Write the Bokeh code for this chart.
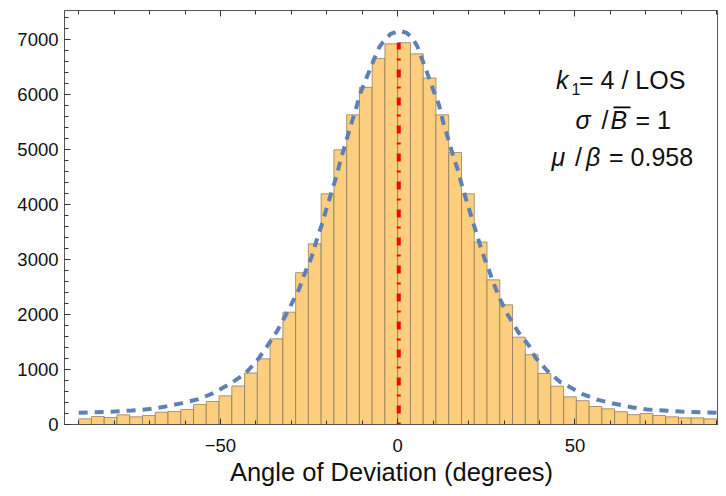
import numpy as np
from bokeh.plotting import figure
from bokeh.models import LinearAxis, Range1d, Label, BoxAnnotation, FixedTicker, ColumnDataSource
from bokeh.embed import file_html
from bokeh.resources import INLINE

# ---------------- data ----------------
BIN_START = -90.0
BIN_END = 90.0
N_BINS = 50
COUNTS = [103, 145, 127, 176, 139, 164, 224, 236, 273, 364,
          418, 521, 700, 936, 1194, 1558, 2042, 2760, 3285, 4194,
          4994, 5630, 6130, 6655, 6921, 6942, 6739, 6300, 5630, 4945,
          4194, 3318, 2630, 2176, 1588, 1270, 927, 697, 503, 433,
          327, 285, 233, 179, 200, 164, 139, 121, 121, 103]

CURVE_X = [-90, -80, -75, -70, -65.5, -60.8, -56.2, -52, -47.3, -43.1,
           -39.8, -37, -34, -31, -27.8, -26.2, -24.3, -22.9, -21.5, -20.1,
           -18.7, -17.3, -16.1, -14.7, -13.4, -11.9, -10.6, -8.9, -7.0, -5.2,
           -3.5, -2.0, 0.5, 2.5, 4.0, 5.5, 7.0, 8.4, 10.1, 11.7,
           12.9, 14.3, 15.6, 17.1, 18.3, 19.7, 21.1, 22.5, 23.9, 25.6,
           27.2, 28.8, 31, 34, 37, 38.9, 42.1, 45.9, 47.8, 52,
           56.5, 61.2, 65.9, 70.3, 75, 80, 90]
CURVE_Y = [212, 236, 255, 280, 327, 388, 461, 570, 739, 921,
           1152, 1406, 1700, 2060, 2467, 2751, 3042, 3345, 3618, 3921,
           4224, 4509, 4812, 5115, 5406, 5709, 6012, 6285, 6588, 6860,
           7010, 7100, 7160, 7120, 7040, 6880, 6620, 6376, 6073, 5800,
           5478, 5182, 4891, 4600, 4303, 4012, 3709, 3418, 3121, 2830,
           2545, 2285, 2000, 1680, 1436, 1212, 982, 770, 709, 558,
           448, 376, 315, 273, 255, 236, 212]

MEAN_X = 0.3
MEAN_TOP = 6940

X_MAJOR = [-50, 0, 50]
X_MINOR = [-90, -80, -70, -60, -40, -30, -20, -10, 10, 20, 30, 40, 60, 70, 80, 90]
Y_MAJOR = [0, 1000, 2000, 3000, 4000, 5000, 6000, 7000]
Y_MINOR = [v for v in range(0, 7600, 200)]

X_LABEL = "Angle of Deviation (degrees)"

# ---------------- figure ----------------
FONT = "Liberation Sans"
FRAME = "#555555"

p = figure(width=718, height=488,
           x_range=Range1d(-94, 90.5), y_range=Range1d(0, 7527),
           output_backend="svg", toolbar_location=None,
           min_border_left=64, min_border_right=0,
           min_border_top=10, min_border_bottom=64)
p.background_fill_color = "white"
p.border_fill_color = "white"
p.outline_line_color = FRAME
p.xgrid.visible = False
p.ygrid.visible = False

edges = np.linspace(BIN_START, BIN_END, N_BINS + 1)
src = ColumnDataSource(dict(left=edges[:-1], right=edges[1:], top=COUNTS,
                            bottom=[0] * len(COUNTS)))
p.quad(left="left", right="right", top="top", bottom="bottom", source=src,
       fill_color="#FCCE7E", line_color="#8C7A58", line_alpha=0.75, line_width=1)

p.line(CURVE_X, CURVE_Y, line_color="#5E81B5", line_width=4, line_dash="9 7")

p.segment(x0=[MEAN_X], y0=[0], x1=[MEAN_X], y1=[MEAN_TOP],
          line_color="#FF0000", line_width=4, line_dash="2 9 8 9")

xt = FixedTicker(ticks=X_MAJOR, minor_ticks=X_MINOR)
yt = FixedTicker(ticks=Y_MAJOR, minor_ticks=Y_MINOR)


def style(ax):
    ax.axis_line_color = FRAME
    ax.major_tick_line_color = "#333333"
    ax.minor_tick_line_color = "#333333"
    ax.major_tick_in = 6
    ax.major_tick_out = 0
    ax.minor_tick_in = 4
    ax.minor_tick_out = 0
    ax.major_label_text_font = FONT
    ax.major_label_text_font_size = "18.5px"
    ax.major_label_text_color = "#111111"


xa = p.xaxis[0]
xa.ticker = xt
style(xa)
xa.major_label_standoff = 14
xa.major_label_text_line_height = 0.9
xa.axis_label = X_LABEL
xa.axis_label_text_font = FONT
xa.axis_label_text_font_size = "25.5px"
xa.axis_label_text_font_style = "normal"
xa.axis_label_text_color = "#111111"
xa.axis_label_text_line_height = 0.9
xa.axis_label_standoff = 3

ya = p.yaxis[0]
ya.ticker = yt
style(ya)
ya.major_label_standoff = 6

top_ax = LinearAxis(ticker=xt)
style(top_ax)
top_ax.axis_line_color = None
top_ax.major_label_text_font_size = "1px"
top_ax.major_label_text_color = None
top_ax.major_label_standoff = 0
p.add_layout(top_ax, "above")

# ---------------- annotation text ----------------
def lab(x, y, t, size="25px", italic=False):
    p.add_layout(Label(x=x, y=y, x_units="screen", y_units="screen", text=t,
                       text_font=FONT, text_font_size=size,
                       text_font_style="italic" if italic else "normal",
                       text_color="#111111", text_baseline="alphabetic",
                       text_align="left"))

# line 1
lab(491.5, 344.7, "k", italic=True)
lab(507.0, 335.5, "1", size="16px")
lab(514.5, 344.7, "= 4 / LOS")
# line 2
lab(511.0, 304.7, "σ", italic=True)
lab(537.0, 304.7, "/")
lab(546.0, 304.7, "B", italic=True)
p.add_layout(BoxAnnotation(left=549, right=566, bottom=316.3, top=318.0,
                           left_units="screen", right_units="screen",
                           top_units="screen", bottom_units="screen",
                           fill_color="black", fill_alpha=1, line_color=None))
lab(571.0, 304.7, "= 1")
# line 3
lab(487.0, 267.3, "μ", italic=True)
lab(510.5, 267.3, "/")
lab(521.5, 267.3, "β", italic=True)
lab(544.5, 267.3, "= 0.958")

open("out.html", "w").write(file_html(p, INLINE))
